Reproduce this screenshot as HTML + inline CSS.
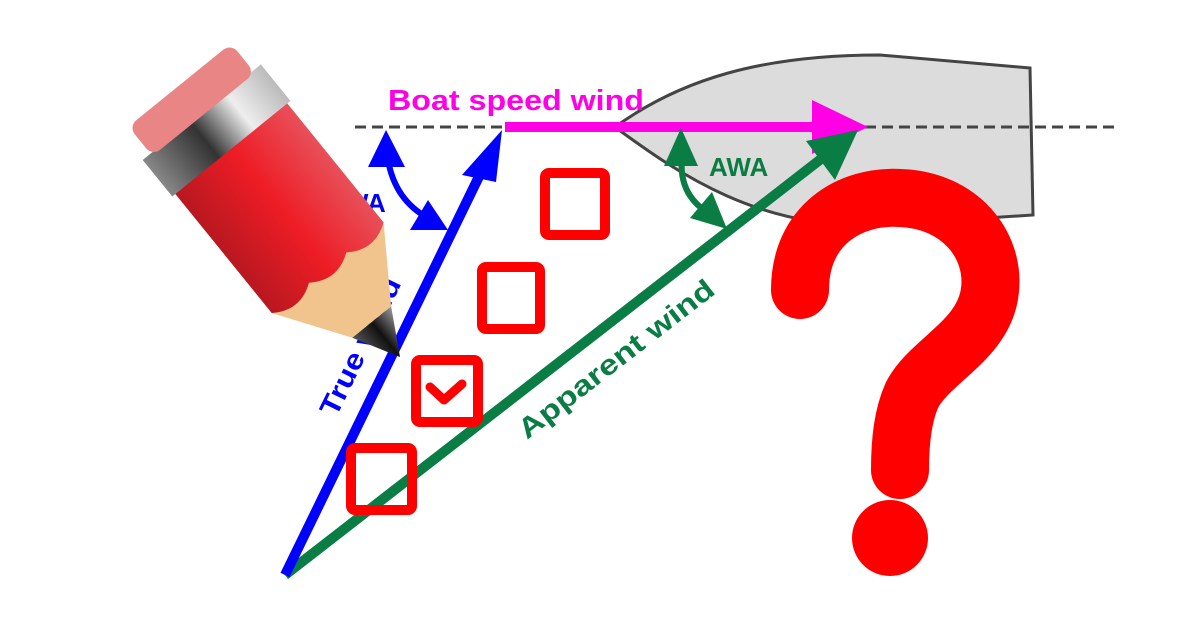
<!DOCTYPE html>
<html><head><meta charset="utf-8"><style>
html,body{margin:0;padding:0;background:#fff;}
svg{display:block;}
text{font-family:"Liberation Sans",sans-serif;font-weight:bold;}
</style></head><body>
<svg width="1200" height="629" viewBox="0 0 1200 629" xmlns="http://www.w3.org/2000/svg">
<defs>
<linearGradient id="ferr" x1="0" y1="0" x2="0" y2="1">
<stop offset="0" stop-color="#bbb"/><stop offset="0.3" stop-color="#eee"/><stop offset="0.6" stop-color="#333"/><stop offset="1" stop-color="#888"/></linearGradient>
<linearGradient id="body" x1="0" y1="0" x2="0" y2="1">
<stop offset="0" stop-color="#e8505a"/><stop offset="0.5" stop-color="#ee1c25"/><stop offset="1" stop-color="#b81820"/></linearGradient>
<linearGradient id="tipg" x1="0" y1="0" x2="0" y2="1">
<stop offset="0" stop-color="#999"/><stop offset="0.5" stop-color="#111"/><stop offset="1" stop-color="#555"/></linearGradient>
</defs>
<path d="M615,127 C680,80 760,55 880,55 L1030,68 L1033,215 L880,225 C760,230 680,175 615,127 Z" fill="#dcdcdc" stroke="#444" stroke-width="3"/>
<line x1="355" y1="127" x2="1115" y2="127" stroke="#444" stroke-width="3" stroke-dasharray="11,6"/>
<line x1="505" y1="127" x2="830" y2="127" stroke="#ff00e6" stroke-width="10"/>
<polygon points="868,127 812,100 812,154" fill="#ff00e6"/>
<text x="388" y="110" font-size="29" fill="#ff00e6" textLength="256" lengthAdjust="spacingAndGlyphs">Boat speed wind</text>
<line x1="285" y1="575" x2="830" y2="152" stroke="#0a7d45" stroke-width="10"/>
<polygon points="858,130 806,141 835,180" fill="#0a7d45"/>
<text transform="translate(527,440) rotate(-37.8)" font-size="28" fill="#0a7d45" textLength="240" lengthAdjust="spacingAndGlyphs">Apparent wind</text>
<path d="M683,150 Q675,195 712,215" fill="none" stroke="#0a7d45" stroke-width="6"/>
<polygon points="681,128 664,166 698,166" fill="#0a7d45"/>
<polygon points="727,229 690,218 712,192" fill="#0a7d45"/>
<text x="709" y="176" font-size="26" fill="#0a7d45">AWA</text>
<line x1="285" y1="575" x2="488" y2="158" stroke="#0000ff" stroke-width="10"/>
<polygon points="502,130 462,175 496,182" fill="#0000ff"/>
<text transform="translate(336,418) rotate(-64)" font-size="28" fill="#0000ff" textLength="150" lengthAdjust="spacingAndGlyphs">True wind</text>
<path d="M388,160 Q395,200 428,218" fill="none" stroke="#0000ff" stroke-width="6"/>
<polygon points="386,130 368,167 405,167" fill="#0000ff"/>
<polygon points="448,230 410,230 428,200" fill="#0000ff"/>
<text x="328" y="212" font-size="26" fill="#0000ff">TWA</text>
<g fill="none" stroke="#ff0000" stroke-width="10" stroke-linejoin="round">
<rect x="545" y="173" width="60" height="62" rx="4"/>
<rect x="482" y="267" width="58" height="62" rx="4"/>
<rect x="416" y="360" width="62" height="62" rx="4"/>
<rect x="351" y="448" width="61" height="62" rx="4"/>
</g>
<polyline points="430,387 444,400 462,384" fill="none" stroke="#ff0000" stroke-width="9" stroke-linecap="round" stroke-linejoin="round"/>
<path d="M800,290 C800,225 850,195 900,198 C960,200 995,245 990,290 C985,340 930,360 912,395 C903,415 900,440 900,470" fill="none" stroke="#ff0000" stroke-width="58" stroke-linecap="round"/>
<circle cx="890" cy="538" r="38" fill="#ff0000"/>
<g transform="translate(400,357) rotate(51)">
<polygon points="0,0 -45,-25 -45,25" fill="url(#tipg)"/>
<polygon points="-45,-25 -45,25 -115,72 -115,-72" fill="#f0c48c"/>
<path d="M-115,-72 L-270,-72 L-270,72 L-115,72 Q-98,48 -115,24 Q-98,0 -115,-24 Q-98,-48 -115,-72Z" fill="url(#body)"/>
<rect x="-315" y="-76" width="47" height="152" fill="url(#ferr)"/>
<rect x="-350" y="-66" width="38" height="132" rx="10" fill="#e98585"/>
</g>
</svg>
</body></html>
